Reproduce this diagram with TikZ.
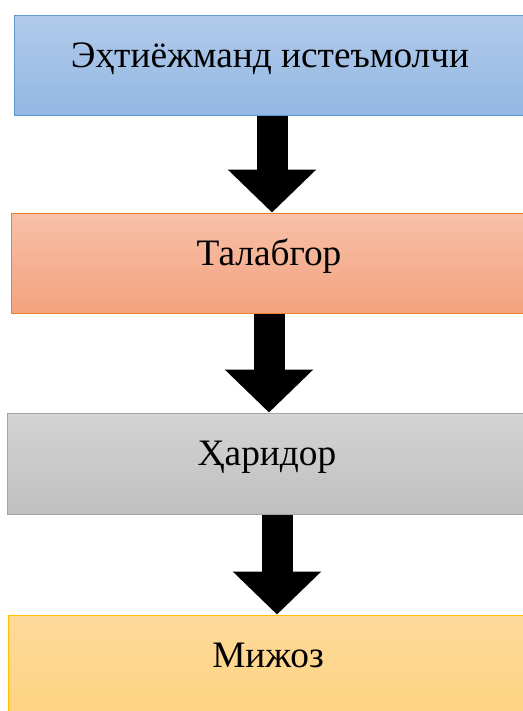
\documentclass[tikz,border=0pt]{standalone}
\usepackage{fontspec}
\setmainfont{Liberation Serif}
\usetikzlibrary{arrows.meta}

\definecolor{needTop}{HTML}{B2CBEA}
\definecolor{needBot}{HTML}{92B7E3}
\definecolor{needEdge}{HTML}{5B9BD5}
\definecolor{demandTop}{HTML}{F7C0A7}
\definecolor{demandBot}{HTML}{F4A37F}
\definecolor{demandEdge}{HTML}{ED7D31}
\definecolor{buyerTop}{HTML}{D4D4D4}
\definecolor{buyerBot}{HTML}{BFBFBF}
\definecolor{buyerEdge}{HTML}{A5A5A5}
\definecolor{clientTop}{HTML}{FEDA9B}
\definecolor{clientBot}{HTML}{FED280}
\definecolor{clientEdge}{HTML}{FFC000}

\begin{document}
\begin{tikzpicture}[x=0.75pt,y=-0.75pt,
  stage/.style={draw, line width=0.75pt, shading=axis, inner sep=0pt,
    minimum height=75pt, text height=10pt, text depth=7pt,
    font=\fontsize{28}{33}\selectfont},
  flow/.style={line width=23.25pt, -{Triangle[width=64.5pt,length=32.25pt]}}]
  \useasboundingbox (0,0) rectangle (523,711);
  % 四个阶段的方框，上浅下深的渐变
  \node[stage, top color=needTop, bottom color=needBot, draw=needEdge,
    minimum width=384pt] (ehtiyoj) at (270,65) {Эҳтиёжманд истеъмолчи};
  \node[stage, top color=demandTop, bottom color=demandBot, draw=demandEdge,
    minimum width=386pt] (talab) at (269,263) {Талабгор};
  \node[stage, top color=buyerTop, bottom color=buyerBot, draw=buyerEdge,
    minimum width=390pt, minimum height=75.75pt] (xarid) at (267,463.5) {Ҳаридор};
  \node[stage, top color=clientTop, bottom color=clientBot, draw=clientEdge,
    minimum width=389pt] (mijoz) at (268,665) {Мижоз};
  % 方框之间的粗黑箭头
  \coordinate (x1) at (272,0);
  \coordinate (x2) at (269,0);
  \coordinate (x3) at (277,0);
  \draw[flow] (ehtiyoj.south -| x1) -- (talab.north -| x1);
  \draw[flow] (talab.south -| x2) -- (xarid.north -| x2);
  \draw[flow] (xarid.south -| x3) -- (mijoz.north -| x3);
\end{tikzpicture}
\end{document}
